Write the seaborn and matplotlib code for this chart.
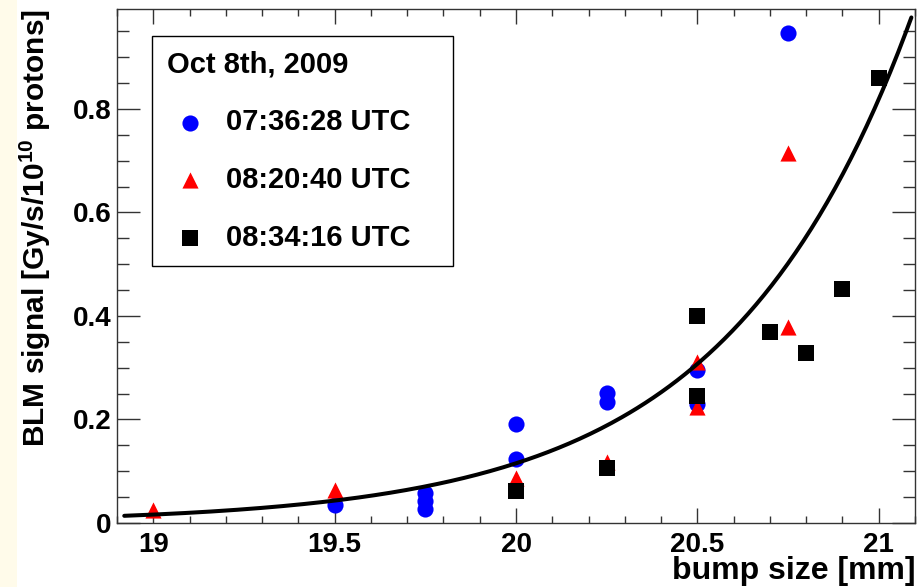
import numpy as np
import pandas as pd
import matplotlib
matplotlib.use('Agg')
import matplotlib.pyplot as plt
import seaborn as sns
from matplotlib.ticker import MultipleLocator, FuncFormatter
from matplotlib.patches import Rectangle

blue_x = [19.5, 19.75, 19.75, 19.75, 20.0, 20.0, 20.25, 20.25, 20.5, 20.5, 20.75]
blue_y = [0.035, 0.057, 0.042, 0.028, 0.191, 0.124, 0.252, 0.233, 0.296, 0.229, 0.946]
red_x = [19.0, 19.5, 20.0, 20.25, 20.5, 20.5, 20.75, 20.75]
red_y = [0.025, 0.064, 0.087, 0.118, 0.311, 0.224, 0.378, 0.714]
black_x = [20.0, 20.25, 20.5, 20.5, 20.7, 20.8, 20.9, 21.0]
black_y = [0.061, 0.106, 0.399, 0.246, 0.369, 0.329, 0.452, 0.860]
labels = ['07:36:28 UTC', '08:20:40 UTC', '08:34:16 UTC']

# exponential fit exp(p0 + p1*x), parameters estimated from the drawn curve
fit_p0 = -41.36
fit_p1 = 1.96
fit_xmin, fit_xmax = 18.92, 21.09

sns.set_theme(style='ticks')
plt.rcParams['font.family'] = ['Liberation Sans', 'DejaVu Sans']
plt.rcParams['font.weight'] = 'bold'
plt.rcParams['text.color'] = 'black'
plt.rcParams['axes.labelcolor'] = 'black'
plt.rcParams['xtick.labelcolor'] = 'black'
plt.rcParams['ytick.labelcolor'] = 'black'
plt.rcParams['mathtext.fontset'] = 'custom'
plt.rcParams['mathtext.rm'] = 'Liberation Sans:bold'
plt.rcParams['mathtext.default'] = 'rm'

fig = plt.figure(figsize=(9.24, 5.87), dpi=100)
fig.patch.set_facecolor('white')
fig.patches.append(Rectangle((0, 0), 17 / 924, 1, transform=fig.transFigure,
                             facecolor='#FFFBEA', edgecolor='none', zorder=0))
ax = fig.add_axes([117 / 924, 64 / 587, 798 / 924, 514 / 587])

msize = 135
sns.scatterplot(x=blue_x, y=blue_y, ax=ax, color='#0000FF', marker='o', s=msize,
                linewidth=0, label=labels[0], zorder=3)
sns.scatterplot(x=red_x, y=red_y, ax=ax, color='#FF0000', marker='^', s=msize,
                linewidth=0, label=labels[1], zorder=4)
sns.scatterplot(x=black_x, y=black_y, ax=ax, color='black', marker='s', s=msize,
                linewidth=0, label=labels[2], zorder=5)

fit_x = np.linspace(fit_xmin, fit_xmax, 300)
fit_df = pd.DataFrame({'x': fit_x, 'y': np.exp(fit_p0 + fit_p1 * fit_x)})
sns.lineplot(data=fit_df, x='x', y='y', ax=ax, color='black', linewidth=2.9,
             estimator=None, sort=False, zorder=6, legend=False)

ax.set_xlim(18.9, 21.1)
ax.set_ylim(0, 0.993)
ax.xaxis.set_major_locator(MultipleLocator(0.5))
ax.xaxis.set_minor_locator(MultipleLocator(0.1))
ax.yaxis.set_major_locator(MultipleLocator(0.2))
ax.yaxis.set_minor_locator(MultipleLocator(0.05))
fmt = FuncFormatter(lambda v, _: f'{v:g}')
ax.xaxis.set_major_formatter(fmt)
ax.yaxis.set_major_formatter(fmt)

for side in ['top', 'right', 'left', 'bottom']:
    ax.spines[side].set_visible(True)
    ax.spines[side].set_color('#333333')
    ax.spines[side].set_linewidth(1.0)

ax.tick_params(which='both', direction='in', top=True, right=True, color='#333333',
               width=1.0, labelsize=20, pad=4)
ax.tick_params(axis='x', which='major', length=11, pad=6.5)
ax.tick_params(axis='x', which='minor', length=5)
ax.tick_params(axis='y', which='major', length=16.5)
ax.tick_params(axis='y', which='minor', length=8.5)
for lab in ax.get_xticklabels() + ax.get_yticklabels():
    lab.set_fontweight('bold')

ax.set_xlabel('bump size [mm]', fontsize=23, fontweight='bold', loc='right')
ax.xaxis.set_label_coords(1.0, -0.064)
ax.set_ylabel(r'BLM signal [Gy/s/10$^{10}$ protons]', fontsize=21.5,
              fontweight='bold', loc='top')
ax.yaxis.set_label_coords(-0.08, 1.0)

leg = ax.legend(loc='upper left', bbox_to_anchor=(0.0439, 0.502, 0.3772, 0.4455),
                mode='expand', borderaxespad=0,
                title='Oct 8th, 2009', alignment='left', fontsize=21,
                title_fontproperties={'size': 21, 'weight': 'bold'},
                frameon=True, fancybox=False, shadow=False, framealpha=1,
                edgecolor='black', borderpad=0.5, labelspacing=1.02,
                handlelength=1.6, handletextpad=0.45, scatterpoints=1)
leg.get_frame().set_linewidth(1.0)
for t in leg.get_texts():
    t.set_fontweight('bold')

fig.savefig('out.png', dpi=100, facecolor='white')
